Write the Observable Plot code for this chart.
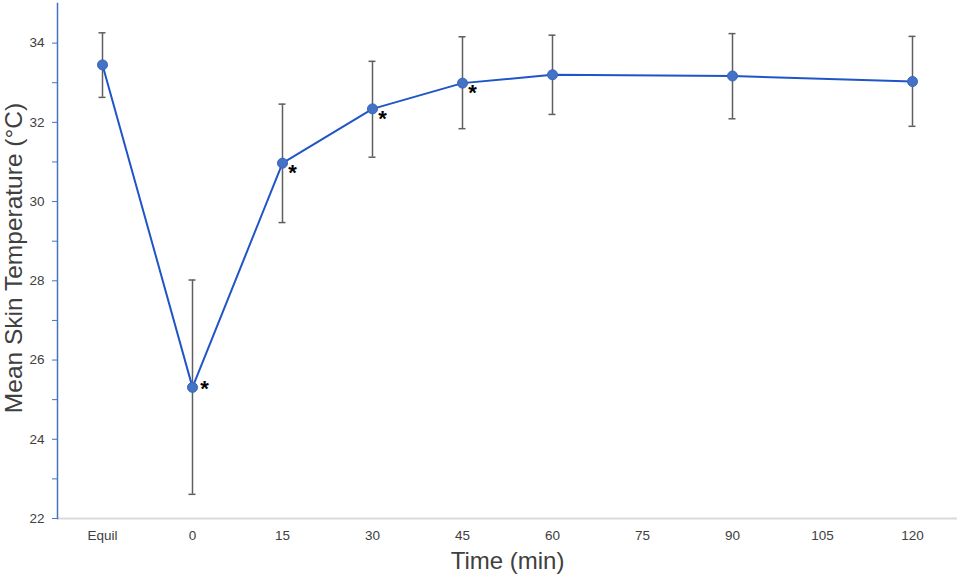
<!DOCTYPE html>
<html><head><meta charset="utf-8">
<script src="https://cdn.jsdelivr.net/npm/d3@7"></script>
<script src="https://cdn.jsdelivr.net/npm/@observablehq/plot@0.6"></script>
<style>body{margin:0;background:#fff}</style>
</head><body><div id="chart"></div>
<script>
const categories = ["Equil", "0", "15", "30", "45", "60", "75", "90", "105", "120"];
const times = ["Equil", "0", "15", "30", "45", "60", "90", "120"];
const means = [33.45, 25.31, 30.97, 32.34, 32.99, 33.20, 33.17, 33.03];
const upper = [34.26, 28.02, 32.46, 33.54, 34.16, 34.20, 34.24, 34.17];
const lower = [32.63, 22.61, 29.47, 31.12, 31.84, 32.20, 32.09, 31.90];
const significant = [false, true, true, true, true, false, false, false];
const yTicks = [22, 23, 24, 25, 26, 27, 28, 29, 30, 31, 32, 33, 34];
const yLabels = [22, 24, 26, 28, 30, 32, 34];

const data = times.map((t, i) => ({t, mean: means[i], hi: upper[i], lo: lower[i], sig: significant[i]}));

const blueAxis = "#4472c4";
const errGray = "#5f5f5f";
const textGray = "#404040";

const starStyle = {x: "t", y: "mean", text: () => "*", dx: 10, fontSize: 22, fontWeight: "bold", fill: "#000"};

const chart = Plot.plot({
  width: 957, height: 577,
  marginLeft: 57, marginRight: 0, marginTop: 3, marginBottom: 59,
  style: {fontFamily: "'Liberation Sans', Arial, sans-serif", background: "#fff"},
  x: {type: "band", domain: categories, padding: 0, label: null},
  y: {domain: [22, 35], label: null},
  marks: [
    Plot.ruleY([22], {stroke: "#d9d9d9", strokeWidth: 2}),
    Plot.frame({anchor: "left", stroke: blueAxis, strokeWidth: 1.5}),
    Plot.axisY(yTicks, {tickSize: 5, tickPadding: 8, stroke: blueAxis, fill: textGray, fontSize: 13.5,
      tickFormat: d => yLabels.includes(d) ? String(d) : "", label: null}),
    Plot.axisX({tickSize: 0, tickPadding: 12, fill: textGray, fontSize: 13.5, label: null}),
    Plot.ruleX(data, {x: "t", y1: "lo", y2: "hi", stroke: errGray, strokeWidth: 1.5}),
    Plot.tickY(data, {x: "t", y: "hi", stroke: errGray, strokeWidth: 1.5, insetLeft: 41.5, insetRight: 41.5}),
    Plot.tickY(data, {x: "t", y: "lo", stroke: errGray, strokeWidth: 1.5, insetLeft: 41.5, insetRight: 41.5}),
    Plot.line(data, {x: "t", y: "mean", stroke: "#1f55c6", strokeWidth: 2}),
    Plot.dot(data, {x: "t", y: "mean", r: 5, fill: "#4472c4", stroke: "#3563c0", strokeWidth: 1}),
    Plot.text(data.filter(d => d.sig && d.t !== "0"), {...starStyle, dy: 10}),
    Plot.text(data.filter(d => d.sig && d.t === "0"), {...starStyle, dx: 12, dy: 2}),
    Plot.text(["Time (min)"], {frameAnchor: "bottom", lineAnchor: "middle", textAnchor: "middle", dy: 43,
      fontSize: 24, fill: textGray}),
    Plot.text(["Mean Skin Temperature (°C)"], {frameAnchor: "left", lineAnchor: "middle", textAnchor: "middle",
      rotate: -90, dx: -43, dy: -3, fontSize: 24.5, fill: textGray})
  ]
});
document.getElementById("chart").appendChild(chart);
</script>
</body></html>
